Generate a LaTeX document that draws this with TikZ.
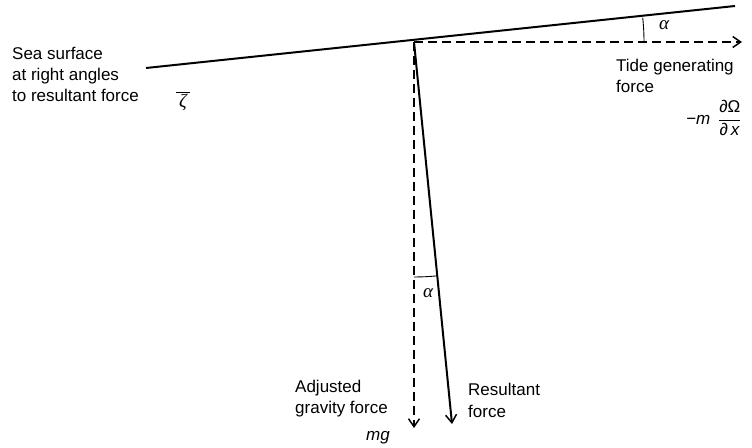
\documentclass[tikz,border=0pt]{standalone}
\usepackage{amsmath}
\usepackage{fontspec}
\setmainfont{Liberation Sans}
\newfontfamily\grkfont{Liberation Serif}
\usetikzlibrary{arrows.meta,positioning,calc}

\begin{document}
\begin{tikzpicture}[x=1pt,y=1pt,>={Straight Barb[length=8pt,width=11pt,line width=1.5pt]},
  lbl/.style={inner sep=0pt,align=left,font=\fontsize{17}{21}\selectfont},
  greek/.style={inner sep=0pt,font=\fontsize{19}{21}\selectfont\grkfont\itshape},
  dashline/.style={line width=1.6pt,dash pattern=on 9pt off 5pt},
  solidline/.style={line width=2pt}]
\useasboundingbox (0,0) rectangle (752,447);
\coordinate (surfL) at (146,379);
\coordinate (surfR) at (735,441);
\coordinate (pivot) at (414,405);
\coordinate (tideTip) at (742,405);
\coordinate (gravTip) at (414,19);
\coordinate (resTip) at (452,23);
\draw[solidline] (surfL)--(surfR);
\draw[dashline,->] (pivot)--(tideTip);
\draw[dashline,->] (pivot)--(gravTip);
\draw[solidline,->] (pivot)--(resTip);
\draw[line width=0.9pt] ($(pivot)+(0:230)$) arc (0:6.1:230);
\draw[line width=0.9pt] ($(pivot)+(270:235)$) arc (270:275.7:235);
\node[greek] (alphaTop) at (664,422) {α};
\node[greek] (alphaBot) at (428,154) {α};
\node[lbl,anchor=base west] (sea) at (12,345) {Sea surface\\at right angles\\to resultant force};
\node[greek] (zeta) at (183,346) {$\overline{\hbox{\,ζ\,}}$};
\node[lbl,anchor=base west] (tide) at (616,354) {Tide generating\\force};
\node[lbl,anchor=west] (tideEq) at (686,327) {\textit{\textminus m}\hspace{9pt}\setlength{\arrayrulewidth}{1.2pt}\begin{tabular}{@{}c@{}}∂Ω\\[1pt]\hline ∂\,\textit{x}\end{tabular}};
\node[lbl,anchor=base west] (grav) at (295,33) {Adjusted\\gravity force};
\node[lbl,anchor=base east] (mg) at (390,7) {\textit{mg}};
\node[lbl,anchor=base west] (res) at (468,30) {Resultant\\force};
\end{tikzpicture}
\end{document}
